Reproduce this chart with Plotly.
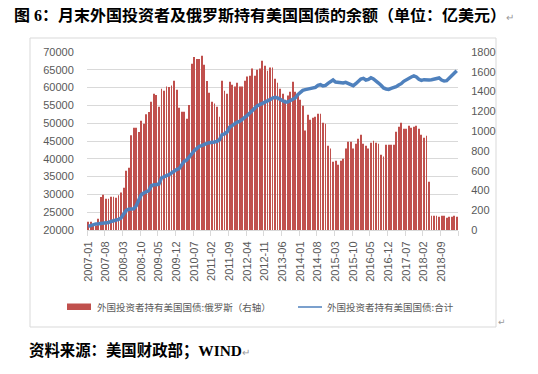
import plotly.graph_objects as go
import pandas as pd

months = [p.strftime("%Y-%m") for p in pd.period_range("2007-01", "2019-03", freq="M")]

russia = [
    84, 84, 40, 45, 115, 334, 357, 317, 317, 337, 337, 327, 351, 378, 428, 600, 630, 957, 1035, 1035, 991, 1106, 1075, 1170,
    1193, 1298, 1379, 1365, 1247, 1429, 1409, 1450, 1446, 1460, 1510, 1419, 1237, 1197, 1197, 1126, 1264, 1682, 1750, 1729, 1729, 1763, 1672, 1507, 1389,
    1298, 1278, 1247, 1146, 1510, 1409, 1379, 1500, 1470, 1450, 1490, 1450, 1450, 1510, 1551, 1561, 1632, 1561, 1621, 1632, 1712, 1662, 1611, 1642,
    1642, 1530, 1490, 1429, 1379, 1318, 1359, 1399, 1500, 1399, 1369, 1318, 1257, 1005, 1166, 1116, 1136, 1146, 1176, 1176, 1085, 1075, 853, 823, 691,
    701, 661, 701, 721, 823, 893, 893, 823, 873, 924, 964, 873, 853, 823, 883, 903, 883, 873, 762, 742, 863, 863, 863, 863,
    994, 1045, 1085, 1025, 1025, 1055, 1035, 1045, 1055, 1025, 964, 934, 954, 489, 145, 145, 145, 135, 145, 145, 125, 135, 135, 145, 135,
]

total = [
    21030, 21300, 21600, 21700, 21750, 21800, 21850, 21900, 22100, 22400, 22550, 22700, 23000, 23400, 24300, 25500, 25850, 25900, 25950, 26800, 28600, 29900, 30400, 30770,
    31050, 32450, 32730, 32730, 32920, 34600, 35070, 35260, 35540, 36010, 36670, 36950, 37230, 38160, 39290, 39660, 40690, 41350, 42280, 43030, 43500, 43690, 44160, 44340, 44530,
    44530, 44720, 44910, 45370, 46780, 46970, 47530, 48840, 49310, 49870, 50340, 50520, 50990, 51460, 52210, 52860, 53520, 54270, 54920, 55210, 55580, 55670, 56140, 56610,
    57080, 57260, 57080, 56610, 56140, 55950, 55950, 56330, 56610, 57080, 58010, 58670, 59230, 59420, 59610, 59890, 60070, 60070, 60640, 60820, 60450, 60640, 61200, 61760, 62130,
    61570, 61480, 61480, 61290, 61480, 61200, 61010, 60540, 61100, 61760, 62420, 62600, 62130, 62320, 62790, 62420, 61950, 61290, 60640, 59890, 59610, 59510, 59800, 60000,
    60260, 60730, 61100, 61760, 62230, 62600, 62980, 63260, 62980, 62320, 62040, 62230, 62130, 62130, 62230, 62320, 62600, 62700, 62130, 61850, 61950, 62600, 63260, 63820, 64760,
]

tick_idx = list(range(0, 141, 7))
tick_labels = [months[i] for i in tick_idx]

title_text = "图 6：月末外国投资者及俄罗斯持有美国国债的余额（单位：亿美元）"
source_text = "资料来源：美国财政部；WIND"
legend_bar = "外国投资者持有美国国债:俄罗斯（右轴）"
legend_line = "外国投资者持有美国国债:合计"

OFF = 8  # page body margin
L, R, T, B = 87, 458, 52, 230  # plot area in page pixels
W, H = 530, 366


def px(x):
    return (x - L) / (R - L)


def py(y):
    return (B - y) / (B - T)


xs = list(range(len(months)))
fig = go.Figure()
fig.add_trace(go.Bar(x=xs, y=russia, marker_color="#C0504D", marker_line_width=0,
                     yaxis="y", showlegend=False))
fig.add_trace(go.Scatter(x=xs, y=total, mode="lines", line=dict(color="#4F81BD", width=3.5),
                         yaxis="y2", showlegend=False))

tickfont = dict(family="Liberation Sans, Arial, sans-serif", size=11, color="#595959")
fig.update_layout(
    width=W, height=H,
    margin=dict(l=L - OFF, r=W - (R - OFF), t=T - OFF, b=H - (B - OFF), pad=0, autoexpand=False),
    paper_bgcolor="white", plot_bgcolor="white",
    bargap=0.66,
    xaxis=dict(range=[-0.5, len(months) - 0.5], tickmode="array", tickvals=tick_idx, ticktext=tick_labels,
               tickangle=-90, tickfont=tickfont, ticks="outside", ticklen=6, tickcolor="rgba(0,0,0,0)",
               showgrid=False, zeroline=False, showline=True, linecolor="#D9D9D9", linewidth=1,
               automargin=False,
               minor=dict(tick0=-0.5, dtick=7, ticks="outside", ticklen=5, tickcolor="#D9D9D9", showgrid=False)),
    yaxis=dict(range=[0, 1800], dtick=200, side="right", showgrid=False, zeroline=False, automargin=False,
               tickformat="d", tickfont=tickfont, ticks="outside", ticklen=10, tickcolor="rgba(0,0,0,0)"),
    yaxis2=dict(range=[20000, 70000], dtick=5000, side="left", overlaying="y", showgrid=True,
                gridcolor="#D9D9D9", gridwidth=1, zeroline=False, tickfont=tickfont, automargin=False,
                tickformat="d", ticks="outside", ticklen=10, tickcolor="rgba(0,0,0,0)"),
    font=dict(family="Noto Sans CJK SC, sans-serif"),
)

shapes = [
    dict(type="rect", xref="paper", yref="paper", x0=px(30), x1=px(496), y0=py(327), y1=py(38),
         line=dict(color="#D9D9D9", width=1), fillcolor="rgba(0,0,0,0)", layer="below"),
    dict(type="rect", xref="paper", yref="paper", x0=px(67), x1=px(91), y0=py(310), y1=py(303.5),
         line=dict(width=0), fillcolor="#C0504D"),
    dict(type="line", xref="paper", yref="paper", x0=px(298), x1=px(322), y0=py(307), y1=py(307),
         line=dict(color="#4F81BD", width=1.5)),
]
fig.update_layout(shapes=shapes)

ann = [
    dict(text=title_text + '<span style="font-size:10px;color:#999999;font-weight:normal">↵</span>',
         x=px(12), y=py(15), xanchor="left", yanchor="middle",
         font=dict(family="Liberation Serif, Noto Sans CJK SC", size=16, color="black", weight="bold")),
    dict(text=legend_bar, x=px(95), y=py(307), xanchor="left", yanchor="middle",
         font=dict(family="Noto Sans CJK SC", size=9.5, color="#595959")),
    dict(text=legend_line, x=px(325), y=py(307), xanchor="left", yanchor="middle",
         font=dict(family="Noto Sans CJK SC", size=9.5, color="#595959")),
    dict(text="↵", x=px(496), y=py(322), xanchor="left", yanchor="middle",
         font=dict(family="DejaVu Sans", size=9, color="#999999")),
    dict(text=source_text + '<span style="font-size:10px;color:#999999;font-weight:normal">↵</span>',
         x=px(27), y=py(350), xanchor="left", yanchor="middle",
         font=dict(family="Liberation Serif, Noto Sans CJK SC", size=15.4, color="black", weight="bold")),
]
for a in ann:
    a.update(xref="paper", yref="paper", showarrow=False)
fig.update_layout(annotations=ann)

fig.write_html("out.html")
